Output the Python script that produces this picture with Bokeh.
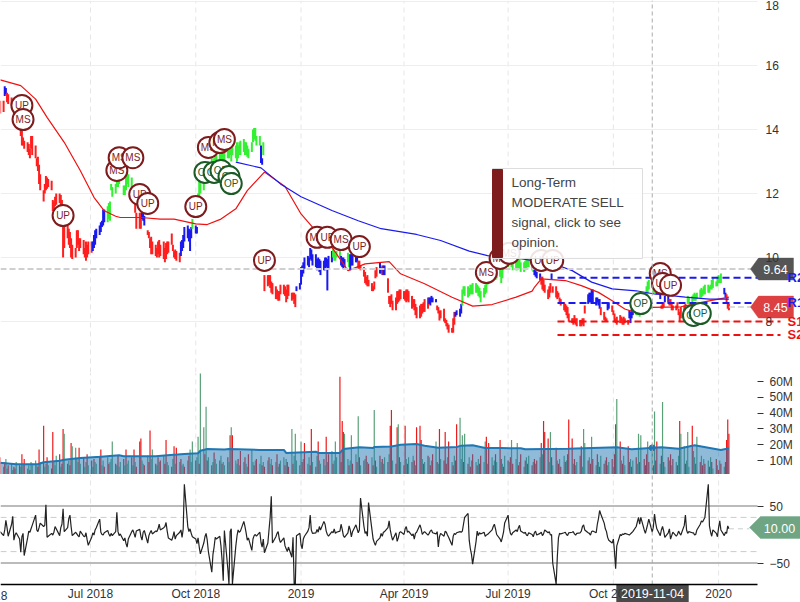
import pandas as pd
from bokeh.core.properties import value
from bokeh.embed import file_html
from bokeh.layouts import column
from bokeh.models import FixedTicker, Label, LinearAxis, Range1d
from bokeh.plotting import figure
from bokeh.resources import INLINE

# ------------------------------------------------------------------ data
hl_a = [(14.9,14.5),(14.9,14.55),(15.35,15.05),(15.3,15.1),(15.15,14.85),(15.1,14.8),(15,14.75),(14.9,14.6),(14.7,14.4),(14.6,14.3),
(14.5,14.2),(14.4,14.1),(14.2,13.8),(14.0,13.5),(13.75,13.5),(13.65,13.4),(13.6,13.3),(13.55,13.2),(13.4,13.1),(13.8,13.4),
(13.8,13.2),(13.5,13.1),(13.1,12.85),(13.15,12.7),(12.9,12.3),(12.6,12.1),(12.1,11.75),(12.3,12.0),(12.55,12.1),(12.5,12.15),
(12.45,12.2),(12.4,12.1),(11.8,11.45),(11.75,11.5),(11.9,11.6),(12.0,11.65),(12.0,11.7),(11.95,11.6),(11.8,11.5),(11.0,10.0),
(11.0,10.3),(11.0,10.6),(10.9,10.4),(10.8,10.3),(10.6,10.0),(10.4,9.95),(10.3,10.0),(10.85,10.3),(10.85,10.4),(10.6,10.2),
(10.6,10.3),(10.55,10.1),(10.3,10.0),(10.5,9.9),(10.4,10.0),(10.5,10.1),(10.5,10.15),(10.5,10.2),(10.7,10.3),(10.85,10.4),
(10.9,10.6),(11.0,10.7),(11.1,10.8),(11.15,10.95),(11.5,11.0),(11.5,11.1),(11.6,11.1),(11.7,11.2),(11.75,11.15),(12.3,12.1),
(12.2,11.9),(12.3,12.0),(12.4,12.2),(12.5,12.2),(12.6,12.3),(12.8,12.5),(12.25,11.95),(12.25,11.95),(12.6,12.1),(12.65,12.3),
(12.6,12.2),(12.5,12.2),(12.2,11.8),(12,11.7),(11.8,11.4),(11.4,10.9),(11.4,10.9),(11.4,10.9),(11.4,11.2),(11.4,11.15),
(11.3,11.0),(10.85,10.7),(10.8,10.6),(10.6,10.3),(10.65,10.1),(10.5,10.1),(10.4,10.05),(10.3,10),(10.5,10.1),(10.55,10.0),
(10.4,10.05),(10.5,9.95),(10.3,9.85),(10.45,9.95),(10.5,10.1),(10.5,10.15),(10.75,10.4),(10.4,10.2),(10.2,10.0),(10.25,9.95),
(10.2,9.9),(10.15,9.85),(10.5,10.05),(10.55,10.2),(10.7,10.3),(10.95,10.5),(11.0,10.6),(10.9,10.5),(10.85,10.2),(10.95,10.6)]
hl_b = [(11.2,10.9),(11.0,10.75),(10.95,10.75),(12.0,11.6),(12.4,11.9),(12.4,12.0),(12.5,12.1),(13,12.4),(12.8,12.4),(12.8,12.4),
(13,12.5),(13.1,12.6),(13.0,12.6),(13.1,12.7),(13.2,12.8),(13.3,12.9),(13.3,12.9),(13.3,12.8),(13.35,13),(13.4,13),
(13.5,13),(13.6,13.1),(13.7,13.1),(13.6,13.2),(13.6,13.0),(13.7,13.2),(13.5,13.1),(13.6,13.0),(13.5,13.1),(13.6,13.2),
(13.65,13.2),(13.7,13.3),(13.6,13.2),(13.6,13.2),(13.5,13.15),(13.4,13.1),(13.6,13.3),(14.0,13.6),(14.05,13.7),(14.05,13.65),
(13.8,13.5),(13.8,13.5),(13.5,12.95),(13.1,12.9),(13.6,13.2),(9.45,8.95),(9.45,9.1),(9.45,9.15),(9.45,9.05),(9.25,8.9),
(9.2,8.85),(9.1,8.7),(9.0,8.7),(8.95,8.65),(8.95,8.65),(9.15,8.85),(9.15,8.85),(9.1,8.8),(9.0,8.6),(9.15,8.7),
(9.15,8.8),(8.9,8.65),(8.9,8.7),(8.9,8.55),(8.85,8.45),(9.1,8.95),(9.2,9.0),(9.7,9.15),(9.75,9.4),(9.85,9.5),
(10.0,9.65),(10.05,9.75),(10.0,9.7),(10.3,9.95),(10.25,9.9),(10.1,9.75),(10.1,9.7),(9.95,9.6),(10.0,9.65),(9.95,9.55),
(9.9,9.45),(9.9,9.6),(10.0,9.6),(10,9.7),(9.95,8.97),(10.05,9.65),(10.2,9.85),(10.3,10.0),(10.2,9.9),(10.1,9.9),
(10.2,10.0),(10.2,10.0),(10.05,9.75),(10.0,9.7),(10,9.65),(9.95,9.7),(10.15,9.85),(10.1,9.7),(10.1,9.6),(10.1,9.75),
(10.1,9.75),(10.05,9.85),(10,9.85),(9.9,9.65),(9.9,9.65),(9.75,9.6),(9.7,9.4),(9.55,9.2),(9.4,9.15),(9.45,9.1),
(9.3,9.1),(9.2,8.95),(9.1,8.95),(9.25,9.0),(9.6,9.35),(9.7,9.4),(9.85,9.5),(9.7,9.5),(9.75,9.45),(9.75,9.45),
(9.75,9.45),(9.35,8.9)]
hl_c = [(8.8,8.55),(8.8,8.45),(8.85,8.55),(8.65,8.35),(8.75,8.35),(8.95,8.55),(8.95,8.6),(9,8.65),(9,8.7),(8.95,8.7),
(8.95,8.65),(9,8.6),(9,8.65),(8.95,8.6),(8.8,8.4),(8.7,8.45),(8.7,8.35),(8.55,8.2),(8.45,8.1),(8.5,8.1),
(8.55,8.15),(8.55,8.25),(8.6,8.3),(8.7,8.3),(8.75,8.4),(8.75,8.55),(8.75,8.5),(8.8,8.6),(8.75,8.6),(8.7,8.6),
(8.5,8.35),(8.45,8.25),(8.34,8.03),(8.35,8.1),(8.4,8.0),(8.1,7.95),(8.05,7.85),(7.95,7.75),(7.9,7.65),(7.8,7.65),
(8.1,7.65),(8.3,7.9),(8.3,8.15),(8.35,8.2),(8.4,8.15),(8.55,8.25),(9.0,8.5),(9.1,8.85),(9.1,8.8),(9.1,8.75),
(9.05,8.8),(9.15,8.85),(9.15,8.85),(9.2,8.85),(9.2,8.9),(9.15,8.9),(9.1,8.8),(9.05,8.75),(8.95,8.6),(9.05,8.75),
(9.15,8.85),(9.3,8.9),(9.45,9.15),(9.55,9.25),(9.6,9.3),(9.65,9.35),(9.7,9.4),(9.6,9.3),(9.7,9.35),(9.7,9.4),
(9.6,9.2),(9.7,9.35),(10.0,9.6),(9.95,9.65),(10,9.7),(10,9.75),(10.2,9.8),(10.05,9.7),(9.95,9.6),(9.9,9.6),
(9.95,9.6),(10,9.65),(9.95,9.65),(9.85,9.55),(9.85,9.55),(9.9,9.6),(10,9.65),(9.95,9.7),(10,9.7),(10.0,9.6),
(9.9,9.55),(9.65,9.45),(9.6,9.4),(9.55,9.35),(9.5,9.3),(9.4,9.15),(9.4,9.0),(9.3,8.95),(9.15,8.9),(9.0,8.7),
(9.1,8.75),(9.2,8.9),(9.5,9.3),(9.1,8.9),(9.1,8.75),(8.95,8.7),(8.9,8.75),(8.75,8.6),(8.7,8.5),(8.6,8.35)]
hl_d = [(8.55,8.3),(8.5,8.2),(8.45,8.1),(8.25,8.0),(8.1,7.95),(8.1,7.9),(8.2,7.95),(8.1,7.9),(8.1,7.85),(8.05,7.85),
(8.05,7.85),(8.1,7.9),(8.1,7.85),(8.5,8.25),(8.85,8.55),(8.9,8.6),(8.9,8.6),(9,8.6),(9.0,8.6),(8.75,8.5),
(8.75,8.6),(8.7,8.5),(8.7,8.4),(8.45,8.2),(8.3,8.05),(8.15,8.0),(8.1,8.0),(8.6,8.35),(8.6,8.4),(8.5,8.3),
(8.35,8.2),(8.25,8),(8.1,7.95),(8.15,7.9),(8.2,7.95),(8.15,7.95),(8.1,7.9),(8.15,7.9),(8.1,7.95),(8.05,7.9),
(8.35,8.1),(8.3,7.95),(8.4,8.1),(8.45,8.2),(8.4,8.2),(8.35,8.2),(8.3,8.2),(8.35,8.15),(8.4,8.2),(8.5,8.3),
(8.7,8.4),(9.1,8.8),(9.25,8.85),(9.3,9.0),(9.35,9.05),(9.2,8.9),(9.15,8.9),(9.05,8.85),(9.05,8.85),(8.95,8.7),
(8.5,8.4),(8.6,8.4),(8.6,8.45),(8.8,8.6),(8.8,8.6),(8.7,8.5),(8.7,8.5),(8.55,8.35),(8.5,8.35),(8.5,8.35),
(8.6,8.4),(8.4,8.2),(8.3,8.0),(8.45,8.1),(8.5,8.2),(8.55,8.2),(8.3,8.05),(8.8,8.55),(8.75,8.55),(8.8,8.6),
(8.85,8.65),(8.9,8.65),(8.85,8.65),(8.9,8.7),(9,8.75),(9.05,8.75),(9,8.8),(9.1,8.85),(9.15,8.85),(9.15,8.9),
(9.1,8.9),(9.15,9.0),(9.3,9.0),(9.35,9.05),(9.25,9.1),(9.4,9.1),(9.45,9.2),(9.4,9.2),(9.5,9.2),(9.05,8.85),
(8.9,8.75),(8.85,8.6),(8.6,8.4),(8.55,8.35)]

run_list = [("r",2),("b",2),("r",53),("b",9),("g",16),("r",6),("b",3),("r",21),("b",8),("g",1),("b",2),("g",39),("b",2),("g",1),
            ("r",20),("b",22),("g",5),("b",4),("g",2),("b",5),("r",13),("b",2),("r",1),("b",2),("r",26),("b",5),("r",12),("b",4),
            ("g",45),("b",4),("r",7),("b",1),("r",21),("b",9),("r",4),("b",2),("r",11),("b",4),("g",14),("b",2),("r",3),("b",2),
            ("r",12),("g",22),("b",2),("r",3)]

sma_red_idx = [0,12,21,29,40,50,58,65,71,75,87,100,108,121,129,137,146,154,165,177,187,195,207,216,227,242,250,265,281,295,306,321,
               331,333,337,352,362,373,381,390,397,406,425,437,455]
sma_red_val = [15.55,15.37,14.95,14.38,13.6,12.72,11.88,11.46,11.29,11.25,11.25,11.2,11.2,11.05,11.03,11.2,11.52,12.09,12.67,12.22,
               11.36,10.95,10.27,9.59,9.8,9.87,9.49,9.18,8.76,8.48,8.53,8.76,8.95,9.07,9.33,9.28,9.12,8.91,8.65,8.39,8.26,8.44,
               8.46,8.6,8.76]
sma_blue_idx = [146,162,175,187,206,223,237,260,275,292,304,320,332,340,348,356,369,381,396,408,427,442,455]
sma_blue_val = [12.98,12.8,12.3,11.9,11.47,11.15,10.9,10.72,10.53,10.2,10.06,10.0,9.9,9.85,9.75,9.59,9.23,9.02,8.96,8.86,8.76,8.7,8.7]

levels = {"R2": 9.37, "R1": 8.58, "S1": 8.0, "S2": 7.58}
last_price_hi, last_price = 9.64, 8.45

marker_kind = ["UP","MS","UP","MS","MS","MS","UP","UP","UP","OP","MS","OP","MS","OP","MS","OP","OP","UP","MS","UP","MS","UP",
               "MS","MS","MS","UP","UP","OP","MS","UP","UP","OP","OP"]
marker_idx = [13,14,39,72,74,82,86,91,121,127,130,133,136,137,140,142,144,165,197,204,212,224,303,311,317,337,345,400,411,413,418,432,436]
marker_val = [14.75,14.31,11.31,12.72,13.12,13.12,11.97,11.69,11.59,12.66,13.44,12.66,13.59,12.72,13.69,12.53,12.31,9.91,10.63,10.63,
              10.56,10.34,9.53,9.97,10.13,9.91,9.91,8.56,9.5,9.19,9.13,8.19,8.25]

volume = [12,6,9,11,5,7,8,4,6,5,9,7,6,14,8,11,5,7,4,9,
8,10,7,6,17,9,32,6,8,12,7,5,28,9,7,13,14,6,8,30,
27,8,10,7,21,19,18,11,9,18,8,12,6,9,14,7,10,6,11,9,
8,13,17,7,10,6,12,8,9,11,22,8,7,13,6,9,11,7,17,8,
10,12,7,17,9,6,22,24,10,8,7,13,9,29,11,17,8,7,12,9,
10,13,8,23,9,7,6,11,19,8,18,9,11,7,8,6,10,13,17,9,
22,10,12,25,8,65,31,14,44,10,12,7,9,15,11,8,10,13,8,9,
7,12,9,26,31,26,10,8,11,7,16,9,12,8,6,14,17,9,7,10,
11,8,13,7,9,6,10,12,8,11,7,9,14,6,8,10,12,7,11,9,
6,30,8,13,27,10,7,22,9,11,21,8,12,7,30,9,6,13,22,10,
8,11,7,25,9,14,16,8,10,22,12,63,9,35,28,27,11,7,10,26,
8,14,9,38,12,7,10,11,13,9,8,12,7,42,10,6,13,9,11,8,
12,9,14,32,42,10,8,31,33,12,9,7,32,11,8,12,9,13,10,7,
31,32,23,11,8,9,13,12,7,10,14,22,9,8,30,11,10,28,8,12,
22,9,7,13,10,33,37,11,26,9,27,8,12,6,10,14,9,7,11,8,
13,9,22,25,8,21,12,7,10,14,9,23,11,8,6,13,10,9,12,23,
8,11,21,7,9,14,6,10,12,8,13,7,9,11,8,10,12,21,14,35,
28,24,9,28,12,7,18,10,8,11,6,13,9,10,14,36,24,8,11,7,
9,13,19,6,30,21,10,12,8,25,11,7,14,9,6,13,8,10,12,7,
9,11,6,14,33,49,22,10,8,13,7,19,9,11,6,10,12,8,27,9,
26,11,7,14,22,9,19,7,41,10,22,8,13,47,9,6,12,10,14,7,
11,9,7,13,35,27,19,8,10,28,6,32,16,12,8,25,9,13,7,11,
8,10,6,12,9,5,11,7,4,10,8,6,9,23,36,27]
volume_sign = ("rgrggrggrrgrgrgrggrg" "gggrrgrggrgrrgggrgrr" "grgrrggggrgrggrgrgrg" "grrggrgrgggrgrggrgrg"
 "grgrgrrrggrgrrggrgrg" "rgrrggrgrgrgrggrgrgg" "grggrggrgrgrgrggrgrg" "grgrgrggrgrgrggrggrg"
 "rggrgrgrggrgrgrggrgr" "rgrgggrgrgrggrrgrgrg" "grgrgrgrgggrrrrggrgg" "rgrgrgrgrgrgrgrgrgrg"
 "grgrrgrrgrgrrgrgrgrg" "rrrgrgrgrgrgrgrgrrrg" "rgrgrrgggrgrgrgrgrgr" "rggrgrgrgrgrrgrgrgrg"
 "rggrgrgrgrgrgrgrgrgr" "rrggrgrgrgrgrgrrrgrg" "grrgggrgrgrgrgrgrgrg" "grgrrgrgrggrrgrgrggr"
 "grrrgrgrgrrgrgrgrgrg" "rgrgrggrgggrggrgrgrg" "rgrgrgrgrgrgrrrr")
volume_sma_idx = [0,10,23,26,36,40,50,62,74,76,96,104,115,123,125,129,140,142,161,176,178,196,198,211,214,224,232,233,244,250,
                  260,265,273,285,287,295,302,312,325,327,354,385,394,412,423,433,450,455]
volume_sma_val = [8.6,7.6,7.6,8.9,9.9,10.5,11.6,12.4,13.3,12.7,12.7,13.3,14.1,14.6,16.2,17.3,16.9,17.3,16.7,16.7,14.8,15.6,14.8,
                  14.8,17.3,18.4,17.9,18.6,18.8,20,20.5,19.4,18.1,18.6,19.4,19.6,17.9,17.9,17.7,17.1,17.5,18.4,17.1,18.4,17.5,
                  19.6,16.7,17.7]

oscillator = [5,-2,8,25,12,-3,18,32,-10,-1,3,-8,-31,-4,2,-37,-6,6,4,10,
16,34,8,5,12,20,14,16,52,-5,-3,2,-1,4,14,10,-2,12,18,45,
5,12,28,34,14,-2,4,1,-2,-4,6,-3,-4,3,-9,-19,-5,3,-1,8,
12,27,4,0,-1,3,7,1,-3,2,-2,5,39,5,-2,1,-11,-6,-16,-22,
-8,5,8,2,-5,6,9,-3,-10,4,7,-15,-2,3,7,1,6,5,10,18,
8,12,14,21,6,-6,-10,-4,5,-8,-2,4,8,-5,10,88,14,5,10,2,
-4,-8,-16,-6,-22,-34,-15,-4,2,-10,-30,-66,-35,-22,-5,-8,-3,-20,-45,-81,
7,-60,-87,5,10,-87,-20,-3,8,4,6,23,14,3,-10,-6,-28,-8,-2,0,
-3,4,-14,-22,-8,-32,-15,8,30,67,-15,-4,2,5,-8,-14,-6,-20,-25,-30,
-22,-40,-5,-87,-87,-2,2,-18,-25,-8,-3,6,12,34,8,2,3,9,4,14,
8,23,18,6,0,-3,5,3,10,2,4,6,18,9,-2,-5,3,15,8,-4,
5,17,10,3,8,64,14,2,5,-3,56,8,-8,-14,-19,-12,-6,2,-3,4,
5,12,24,8,-2,-10,3,-12,-6,3,5,0,10,14,4,6,-2,1,-8,2,
4,17,10,0,3,5,-1,2,6,8,3,1,5,-22,-4,2,-3,6,4,-1,
-5,-19,-3,2,0,3,5,4,6,18,30,37,-10,-25,-35,-52,-12,6,-2,3,
1,4,-3,-1,0,2,8,14,18,10,0,-8,-13,-5,4,20,34,12,2,-1,
3,8,5,12,16,6,2,4,-1,-2,3,0,-4,3,6,-1,2,4,-2,1,
8,3,5,-1,0,-50,-87,-40,-6,2,1,3,4,0,-2,3,4,5,1,-1,
2,3,6,14,17,8,3,2,-1,5,6,3,18,28,42,36,20,10,5,-5,
-10,-15,-8,-30,-60,-20,0,-2,1,0,2,0,-1,1,3,5,14,22,30,18,
30,8,2,10,18,27,4,14,36,20,10,-2,8,14,6,-5,3,10,-8,-2,
4,-3,0,6,2,-1,16,34,8,2,5,3,3,-1,0,8,18,24,22,26,
30,88,15,4,-3,8,2,-4,12,24,8,-2,4,2,15,10]

tick_dates = ["2018-07-01","2018-10-01","2019-01-01","2019-04-01","2019-07-01","2019-10-01","2020-01-01"]
tick_names = ["Jul 2018","Oct 2018","2019","Apr 2019","Jul 2019","Oct 2019","2020"]
hidden_tick = ("2018-03-29", "Apr 2018")
price_ticks = [8,10,12,14,16,18]
volume_ticks = [10,20,30,40,50,60]
osc_ticks = [-50,50]
osc_bands = [30,-30]
cursor_date = "2019-11-04"
tip_lines = ["Long-Term","MODERATE SELL","signal, click to see","opinion."]

# ------------------------------------------------------------------ helpers
FONT = "Liberation Sans"
COL = {"r": "#ff1f1f", "b": "#1a1aee", "g": "#33f033"}
def ms(d):
    return int(pd.Timestamp(d).timestamp() * 1000)

hl = hl_a + hl_b + hl_c + hl_d
dates = [ms(d) for d in pd.bdate_range("2018-04-13", periods=len(hl) + 5)]
colors = [COL[c] for c, k in run_list for _ in range(k)]
colors = (colors + [COL["r"]] * len(hl))[:len(hl)]

DAY = 86400000
X0 = ms("2018-04-13 07:00")
x_px = lambda px: X0 + px / 1.144 * DAY
p_px = lambda py: 8 + (321 - py) / 32
o_px = lambda py: (534 - py) / 0.57
xr = Range1d(X0, x_px(800))
XE = x_px(757)
tick_x = [ms(d) for d in tick_dates]

def base(h, top, bottom, yticks, over=None, tick_out=0, standoff=8):
    f = figure(width=800, height=h, x_range=xr, y_range=Range1d(bottom, top), x_axis_location=None,
               y_axis_location="right", toolbar_location=None, output_backend="svg",
               min_border_left=0, min_border_top=0, min_border_bottom=0, min_border_right=0,
               outline_line_color=None, background_fill_color="white", border_fill_color="white")
    f.grid.visible = False
    a = f.yaxis[0]
    a.fixed_location = XE
    a.ticker = FixedTicker(ticks=yticks)
    if over: a.major_label_overrides = over
    a.axis_line_color = None
    a.major_tick_in = 0
    a.major_tick_out = tick_out
    a.minor_tick_line_color = None
    a.major_tick_line_color = "#333333"
    a.major_label_standoff = standoff
    a.major_label_text_font = FONT
    a.major_label_text_font_size = "12px"
    a.major_label_text_color = "#333333"
    return f

def flag(f, left, body, right, top, bottom, yf, color):
    f.patch([x_px(left), x_px(body), x_px(right), x_px(right), x_px(body)],
            [yf((top + bottom) / 2), yf(top), yf(top), yf(bottom), yf(bottom)],
            fill_color=color, line_color=color, line_alpha=0.4)

def vgrid(f, lo, hi):
    f.segment(tick_x, [lo] * len(tick_x), tick_x, [hi] * len(tick_x), line_color="#e6e6e6", line_dash="5 4", line_width=1)

# ------------------------------------------------------------------ price panel
pp = base(372, p_px(0), p_px(372), price_ticks, tick_out=0, standoff=8)
vgrid(pp, p_px(372), p_px(0))
pp.segment([X0] * len(price_ticks), price_ticks, [XE] * len(price_ticks), price_ticks, line_color="#eeeeee", line_width=1)
pp.segment(dates[:len(hl)], [h for h, l in hl], dates[:len(hl)], [l for h, l in hl], line_color=colors, line_width=2)
pp.line([dates[i] for i in sma_red_idx], sma_red_val, line_color="#f01010", line_width=1.2)
pp.line([dates[i] for i in sma_blue_idx], sma_blue_val, line_color="#1a1aee", line_width=1.2)
pp.line([X0, x_px(751)], [last_price_hi, last_price_hi], line_color="#cfcfcf", line_width=2, line_dash="6 3")
pp.line([dates[len(hl) - 1], x_px(751)], [last_price, last_price], line_color="#cfcfcf", line_width=1.5, line_dash="6 3")

for name, c in (("R2", "#1a1aee"), ("R1", "#1a1aee"), ("S1", "#ee1111"), ("S2", "#ee1111")):
    pp.line([x_px(557), x_px(780)], [levels[name]] * 2, line_color=c, line_width=2, line_dash="7 4")

for k, i, v in zip(marker_kind, marker_idx, marker_val):
    c = "#1c5a26" if k == "OP" else "#7e1b1d"
    pp.scatter([dates[i]], [v], size=21, marker="circle", fill_color="white", line_color=c, line_width=2)
    pp.text([dates[i]], [v], text=[k], text_color=c, text_align="center", text_baseline="middle",
            text_font=value(FONT), text_font_size=value("10px"))

pp.quad(left=[x_px(492)], right=[x_px(642)], top=[p_px(168)], bottom=[p_px(258)], fill_color="white", fill_alpha=0.88,
        line_color="#dddddd")
pp.quad(left=[x_px(492)], right=[x_px(502)], top=[p_px(169)], bottom=[p_px(257)], fill_color="#7e1b1d", line_color="#7e1b1d")
for j, t in enumerate(tip_lines):
    pp.add_layout(Label(x=x_px(511), y=p_px(182 + 20 * j), text=t, text_font=FONT, text_font_size="13.5px",
                        text_color="#444444", text_baseline="middle"))

for name, c in (("R2", "#1a1aee"), ("R1", "#1a1aee"), ("S1", "#ee1111"), ("S2", "#ee1111")):
    pp.add_layout(Label(x=x_px(787), y=levels[name], text=name, text_font=FONT, text_font_size="13px", text_font_style="bold",
                        text_color=c, text_baseline="middle"))
for (val, col, txt) in ((last_price_hi, "#555555", "9.64"), (last_price, "#dc4040", "8.45")):
    y = 321 - (val - 8) * 32
    flag(pp, 750, 758, 793, y - 11, y + 11, p_px, col)
    pp.add_layout(Label(x=x_px(775), y=val, text=txt, text_font=FONT, text_font_size="12.5px", text_color="white",
                        text_align="center", text_baseline="middle"))

# ------------------------------------------------------------------ volume panel
V0 = 475.8
vtop, vbot = (V0 - 372) / 1.58, (V0 - 474) / 1.58
vp = base(102, vtop, vbot, volume_ticks, over={v: f"{v}M" for v in volume_ticks}, tick_out=6, standoff=6)
vgrid(vp, vbot, vtop)
vc = ["#ee1a1a" if s == "r" else "#5aa078" for s in volume_sign]
m = min(len(volume), len(vc))
vp.segment(dates[:m], volume[:m], dates[:m], [0] * m, line_color=vc[:m], line_width=1.2)
sx = [dates[i] for i in volume_sma_idx]
vp.varea(sx, [0] * len(sx), volume_sma_val, fill_color="#1f77b4", fill_alpha=0.5)
vp.line(sx, volume_sma_val, line_color="#1f77b4", line_width=2)
vp.scatter([ms(cursor_date)], [18], size=6, marker="circle", fill_color="#1f77b4", line_color="#1f77b4")

# ------------------------------------------------------------------ oscillator panel
op = base(128, o_px(474), o_px(602), osc_ticks, tick_out=6, standoff=6)
vgrid(op, o_px(584), o_px(474))
for v in osc_ticks:
    op.line([X0, XE], [v, v], line_color="#bbbbbb", line_width=2)
for v in osc_bands:
    op.line([X0, XE], [v, v], line_color="#cccccc", line_width=1, line_dash="6 4")
mo = len(oscillator)
op.line(dates[:mo], oscillator, line_color="#222222", line_width=1.2)
op.line([dates[mo - 1], x_px(749)], [oscillator[-1]] * 2, line_color="#cccccc", line_width=1, line_dash="5 4")
flag(op, 749, 760, 800, 516, 538, o_px, "#6fa583")
op.add_layout(Label(x=x_px(779), y=oscillator[-1], text="10.00", text_font=FONT, text_font_size="12.5px", text_color="white",
                    text_align="center", text_baseline="middle"))
ax = LinearAxis(ticker=FixedTicker(ticks=tick_x), fixed_location=o_px(584),
                major_label_overrides={ms(d): t for d, t in zip(tick_dates, tick_names)})
ax.bounds = (X0, XE)
ax.axis_line_color = "black"
ax.axis_line_width = 1.5
ax.major_tick_line_color = None
ax.minor_tick_line_color = None
ax.major_tick_out = 0
ax.major_tick_in = 0
ax.major_label_standoff = 2
ax.major_label_text_font = FONT
ax.major_label_text_font_size = "12px"
ax.major_label_text_color = "#333333"
op.add_layout(ax, "below")
op.add_layout(Label(x=ms(hidden_tick[0]), y=o_px(595), text=hidden_tick[1], text_font=FONT, text_font_size="12px",
                    text_color="#333333", text_align="center", text_baseline="middle"))
flag(op, 616, 616, 688, 584, 602, o_px, "#4a4a4a")
op.add_layout(Label(x=x_px(652), y=o_px(593), text=cursor_date, text_font=FONT, text_font_size="12.5px", text_color="white",
                    text_align="center", text_baseline="middle"))

cx = ms(cursor_date)
for f, lo, hi in ((pp, p_px(372), p_px(0)), (vp, vbot, vtop), (op, o_px(584), o_px(474))):
    f.segment([cx], [lo], [cx], [hi], line_color="#aaaaaa", line_width=1, line_dash="4 3")

page = column(pp, vp, op, spacing=0)
open("out.html", "w").write(file_html(page, INLINE))
